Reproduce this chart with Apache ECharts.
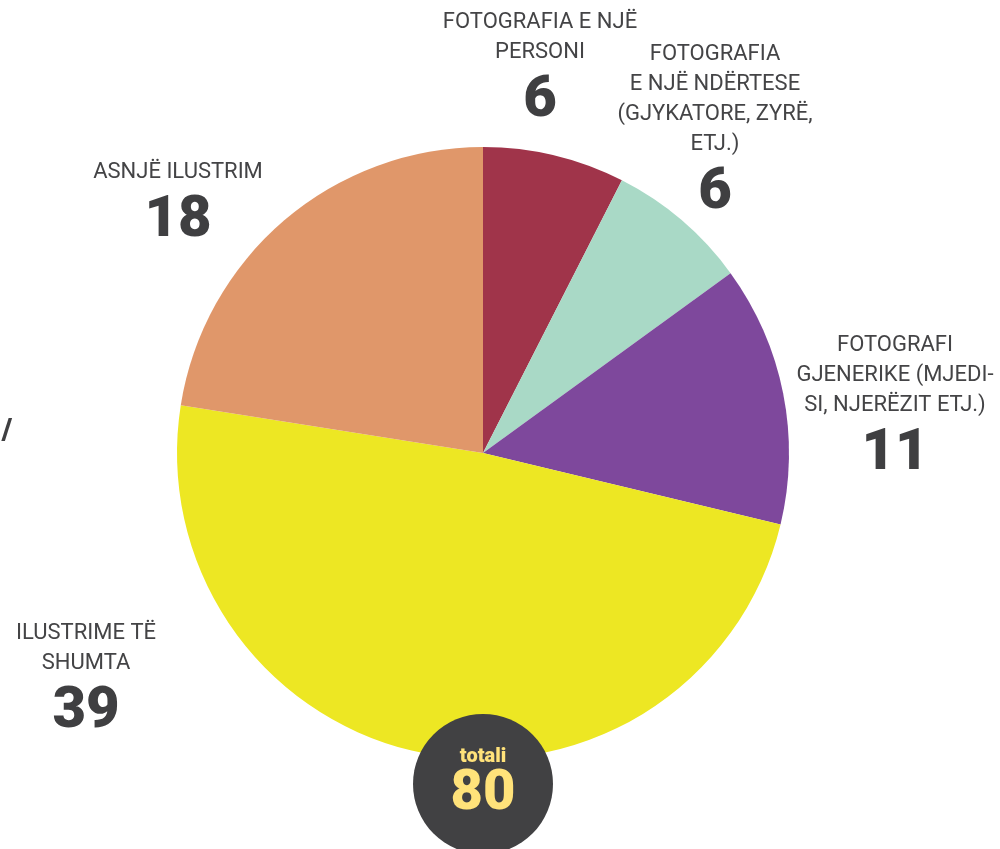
<!DOCTYPE html>
<html>
<head>
<meta charset="utf-8">
<script src="https://cdn.jsdelivr.net/npm/echarts@6/dist/echarts.min.js"></script>
<style>html,body{margin:0;padding:0;background:#fff}#c{width:1000px;height:849px}</style>
</head>
<body>
<div id="c"></div>
<script>
const categories = [
  'FOTOGRAFIA E NJË\nPERSONI',
  'FOTOGRAFIA\nE NJË NDËRTESE\n(GJYKATORE, ZYRË,\nETJ.)',
  'FOTOGRAFI\nGJENERIKE (MJEDI-\nSI, NJERËZIT ETJ.)',
  'ILUSTRIME TË\nSHUMTA',
  'ASNJË ILUSTRIM'
];
const values = [6, 6, 11, 39, 18];
const colors = ['#A0344A', '#A9D9C6', '#7E489C', '#EDE723', '#E0976A'];
const totalLabel = 'totali';

// label anchor points (layout)
const labelPos = [[540, 7], [715, 39], [895, 330], [86, 618], [178, 157]];

const total = values.reduce((a, b) => a + b, 0);
const chart = echarts.init(document.getElementById('c'));
chart.setOption({
  animation: false,
  series: [{
    type: 'pie',
    center: [483, 453],
    radius: [0, 306],
    startAngle: 90,
    clockwise: true,
    silent: true,
    data: categories.map((n, i) => ({ name: n, value: values[i], itemStyle: { color: colors[i] } })),
    itemStyle: { borderWidth: 0 },
    labelLine: { show: false },
    label: {
      show: true,
      position: 'outside',
      overflow: 'none',
      width: 400,
      formatter: p => p.name.split('\n').map(l => '{n|' + l + '}').join('\n') + '\n{v|' + p.value + '}',
      rich: {
        n: { fontFamily: 'Roboto', fontSize: 22, lineHeight: 30, color: '#444446', align: 'center' },
        v: { fontFamily: 'Roboto', fontSize: 58, fontWeight: 900, lineHeight: 68, color: '#3f3f41', align: 'center' }
      }
    },
    labelLayout: p => ({ x: labelPos[p.dataIndex][0], y: labelPos[p.dataIndex][1], align: 'center', verticalAlign: 'top' })
  }],
  graphic: [
    { type: 'circle', shape: { cx: 483, cy: 784, r: 70 }, style: { fill: '#414143' }, z: 10 },
    { type: 'text', x: 483, y: 757, z: 11, style: { text: totalLabel, fontFamily: 'Roboto', fontWeight: 900, fontSize: 20, fill: '#FFE27A', align: 'center', verticalAlign: 'middle' } },
    { type: 'text', x: 483, y: 795, z: 11, style: { text: String(total), fontFamily: 'Roboto', fontWeight: 900, fontSize: 56, fill: '#FFE27A', align: 'center', verticalAlign: 'middle' } },
    { type: 'text', x: 7, y: 431, z: 11, style: { text: '/', fontFamily: 'Roboto', fontWeight: 900, fontSize: 30, fill: '#3f3f41', align: 'center', verticalAlign: 'middle' } }
  ]
});
</script>
</body>
</html>
